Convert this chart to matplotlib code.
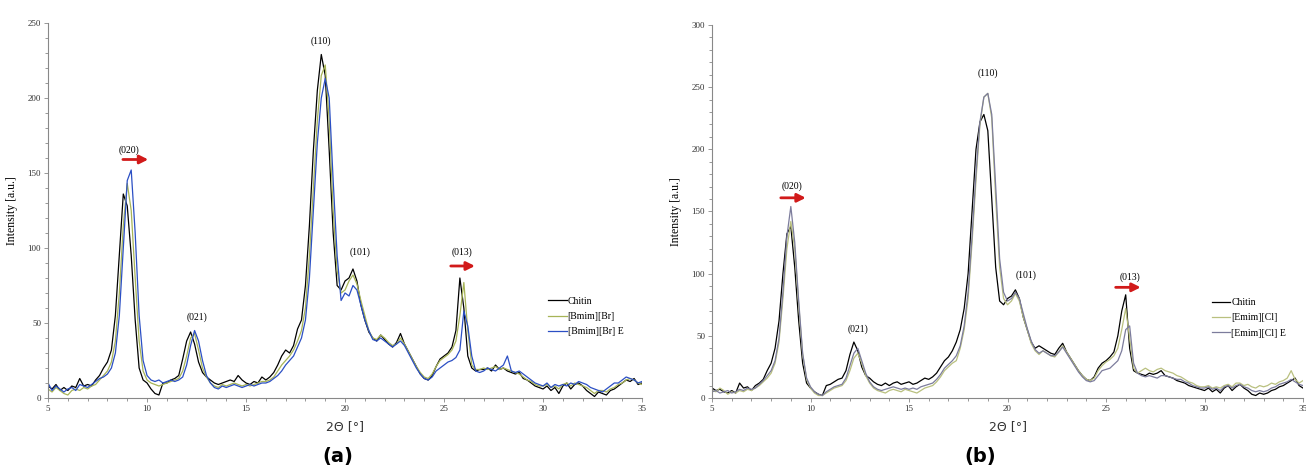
import numpy as np
import matplotlib.pyplot as plt
from matplotlib.ticker import MultipleLocator

# 2-theta sampling grid (degrees), 0.2 deg steps from 5 to 35
two_theta = np.round(np.arange(5, 35.01, 0.2), 1)

# ---- panel (a): Chitin / [Bmim][Br] / [Bmim][Br] E ----
chitin_a = [8, 6, 9, 5, 7, 5, 8, 7, 13, 8, 9, 8, 12, 15, 20,
            24, 32, 55, 95, 136, 128, 95, 52, 20, 12, 10, 6, 3, 2, 10,
            10, 12, 13, 15, 26, 38, 44, 36, 24, 17, 14, 12, 10, 9, 10,
            11, 12, 11, 15, 12, 10, 9, 11, 10, 14, 12, 14, 17, 22, 28,
            32, 30, 35, 46, 52, 75, 115, 165, 205, 229, 215, 165, 110, 75, 72,
            78, 80, 86, 78, 62, 52, 44, 40, 38, 42, 39, 36, 34, 37, 43,
            36, 31, 26, 21, 16, 13, 12, 15, 21, 26, 28, 30, 34, 45, 80,
            60, 28, 20, 18, 19, 19, 20, 18, 22, 19, 20, 18, 17, 16, 17,
            13, 12, 10, 8, 7, 6, 8, 5, 7, 3, 8, 10, 6, 9, 10,
            8, 5, 3, 1, 4, 3, 2, 5, 6, 8, 10, 12, 11, 13, 9, 10]
bmim_a = [6, 4, 7, 5, 3, 2, 5, 6, 5, 7, 6, 8, 9, 12, 15,
          18, 24, 38, 70, 115, 143, 125, 80, 38, 18, 12, 10, 9, 8, 9,
          10, 11, 12, 13, 18, 28, 40, 43, 32, 20, 14, 10, 8, 7, 9,
          8, 9, 10, 9, 8, 9, 8, 9, 10, 11, 11, 12, 14, 18, 22,
          25, 28, 32, 38, 45, 60, 95, 140, 185, 215, 222, 185, 125, 85, 70,
          72, 78, 82, 76, 65, 55, 45, 40, 39, 42, 40, 37, 35, 36, 40,
          36, 31, 26, 21, 17, 14, 13, 16, 21, 25, 27, 29, 32, 38, 55,
          77, 45, 22, 19, 19, 20, 19, 20, 21, 19, 20, 19, 18, 17, 16,
          14, 12, 11, 9, 8, 8, 9, 7, 8, 6, 9, 10, 8, 10, 9,
          8, 7, 5, 3, 5, 5, 4, 6, 7, 9, 10, 12, 13, 12, 10, 9]
bmim_e_a = [10, 5, 8, 6, 4, 6, 7, 5, 9, 8, 7, 9, 11, 13, 14,
            16, 20, 30, 55, 100, 145, 152, 110, 55, 25, 15, 12, 11, 12, 10,
            11, 12, 11, 12, 14, 22, 35, 45, 38, 25, 15, 10, 7, 6, 8,
            7, 8, 9, 8, 7, 8, 9, 8, 9, 10, 10, 11, 13, 15, 18,
            22, 25, 28, 34, 40, 52, 80, 125, 170, 200, 213, 200, 145, 95, 65,
            70, 68, 75, 72, 62, 52, 45, 39, 38, 40, 38, 36, 34, 36, 38,
            35, 30, 25, 20, 16, 13, 12, 14, 18, 20, 22, 24, 25, 27, 32,
            58, 48, 28, 18, 17, 18, 20, 19, 18, 20, 22, 28, 18, 17, 18,
            16, 14, 12, 10, 9, 8, 10, 7, 9, 8, 9, 8, 10, 9, 11,
            10, 9, 7, 6, 5, 4, 6, 8, 10, 10, 12, 14, 13, 12, 10, 11]

# ---- panel (b): Chitin / [Emim][Cl] / [Emim][Cl] E ----
chitin_b = [8, 6, 7, 5, 4, 6, 4, 12, 8, 9, 6, 10, 12, 15, 22,
            28, 40, 62, 100, 132, 138, 105, 62, 28, 12, 8, 5, 3, 2, 10,
            11, 13, 15, 16, 22, 35, 45, 38, 25, 18, 16, 13, 11, 10, 12,
            10, 12, 13, 11, 12, 13, 11, 12, 14, 16, 15, 17, 20, 25, 30,
            33, 38, 45, 55, 72, 100, 150, 200, 222, 228, 215, 160, 105, 78, 75,
            80, 82, 87, 80, 65, 55, 45, 40, 42, 40, 38, 36, 35, 40, 44,
            37, 32, 27, 22, 18, 15, 14, 17, 24, 28, 30, 33, 37, 50, 70,
            83, 40, 22, 20, 19, 18, 20, 19, 20, 22, 18, 17, 16, 14, 13,
            12, 10, 9, 8, 7, 6, 8, 5, 7, 4, 8, 10, 6, 9, 11,
            8, 6, 3, 2, 4, 3, 4, 6, 7, 9, 10, 12, 14, 16, 10, 8]
emim_b = [6, 5, 8, 6, 3, 5, 4, 6, 5, 7, 6, 8, 10, 13, 16,
          20, 28, 45, 80, 120, 142, 120, 75, 35, 15, 8, 4, 2, 2, 4,
          6, 8, 9, 10, 14, 22, 32, 36, 28, 18, 12, 8, 6, 5, 4,
          6, 7, 6, 5, 7, 6, 5, 4, 6, 8, 9, 10, 13, 17, 22,
          25, 28, 30, 40, 55, 80, 125, 175, 220, 242, 245, 225, 160, 105, 80,
          75, 78, 84, 78, 65, 55, 44, 38, 35, 38, 36, 34, 33, 37, 42,
          37, 32, 27, 22, 18, 15, 14, 16, 22, 26, 29, 31, 34, 40, 55,
          72, 48, 24, 20, 22, 24, 22, 21, 23, 24, 22, 21, 20, 18, 17,
          15, 13, 12, 10, 9, 9, 10, 8, 9, 8, 10, 11, 9, 12, 12,
          10, 11, 9, 8, 10, 9, 10, 12, 11, 13, 14, 16, 22, 15, 12, 14]
emim_e_b = [5, 6, 4, 5, 6, 4, 5, 7, 6, 8, 7, 8, 11, 14, 18,
            22, 30, 48, 85, 130, 154, 125, 78, 36, 16, 9, 5, 3, 2, 5,
            7, 9, 10, 11, 16, 26, 36, 40, 30, 20, 13, 9, 7, 6, 7,
            8, 9, 8, 7, 8, 7, 8, 7, 9, 10, 11, 12, 15, 19, 24,
            27, 30, 34, 42, 58, 85, 130, 180, 222, 242, 245, 228, 170, 112, 85,
            78, 80, 85, 80, 68, 56, 46, 39, 36, 38, 36, 34, 34, 37, 41,
            36, 31, 26, 21, 17, 14, 13, 14, 18, 22, 23, 24, 27, 30, 38,
            55, 58, 28, 20, 18, 17, 18, 17, 16, 18, 18, 17, 16, 15, 15,
            13, 12, 10, 9, 8, 8, 9, 7, 8, 6, 9, 10, 8, 10, 11,
            9, 8, 6, 5, 6, 5, 6, 8, 9, 11, 12, 13, 15, 13, 11, 10]

labels_a = ["Chitin", "[Bmim][Br]", "[Bmim][Br] E"]
labels_b = ["Chitin", "[Emim][Cl]", "[Emim][Cl] E"]
colors_a = ["black", "#a7b457", "#2b4fc4"]
colors_b = ["black", "#b9c07f", "#7c7c9c"]

peaks = ["(020)", "(021)", "(110)", "(101)", "(013)"]
peak_pos_a = [(9.1, 165), (12.5, 54), (18.8, 238), (20.75, 97), (25.9, 97)]
peak_pos_b = [(9.06, 170), (12.4, 55), (19.0, 261), (20.95, 99), (26.2, 97)]
arrows_a = [(8.64, 10.2, 159), (25.2, 26.7, 88)]
arrows_b = [(8.35, 9.9, 161), (25.35, 26.9, 89)]

serif = "Liberation Serif"

fig = plt.figure(figsize=(13.06, 4.75), dpi=100)
ax_a = fig.add_axes([0.0368, 0.1621, 0.4548, 0.7895])
ax_b = fig.add_axes([0.5452, 0.1621, 0.4525, 0.7853])


def draw(ax, series, labels, colors, ymax, peak_pos, arrows, leg_xy):
    for y, lab, c in zip(series, labels, colors):
        assert len(y) == len(two_theta)
        ax.plot(two_theta, y, color=c, lw=0.9, label=lab)
    ax.set_xlim(5, 35)
    ax.set_ylim(0, ymax)
    ax.xaxis.set_major_locator(MultipleLocator(5))
    ax.xaxis.set_minor_locator(MultipleLocator(1))
    ax.yaxis.set_major_locator(MultipleLocator(50))
    ax.yaxis.set_minor_locator(MultipleLocator(10))
    for s in ["top", "right"]:
        ax.spines[s].set_visible(False)
    for s in ["left", "bottom"]:
        ax.spines[s].set_color("#888888")
        ax.spines[s].set_linewidth(0.8)
    ax.tick_params(which="both", colors="#888888", labelcolor="#333333", width=0.6)
    ax.tick_params(which="major", length=3, labelsize=6.5, pad=2)
    ax.tick_params(which="minor", length=2)
    for t in ax.get_xticklabels() + ax.get_yticklabels():
        t.set_family(serif)
    ax.set_ylabel("Intensity [a.u.]", family=serif, fontsize=8.5)
    ax.yaxis.set_label_coords(-0.05, 0.5)
    ax.set_xlabel("2\u0398 [\u00b0]", fontsize=9, color="#333333")
    ax.xaxis.set_label_coords(0.5, -0.058)
    for name, (px, py) in zip(peaks, peak_pos):
        ax.text(px, py, name, family=serif, fontsize=7, ha="center", va="center")
    for x0, x1, yy in arrows:
        ax.annotate("", xy=(x1, yy), xytext=(x0, yy),
                    arrowprops=dict(arrowstyle="-|>,head_length=0.5,head_width=0.25",
                                    color="#d11a1a", lw=2))
    ax.legend(loc="upper left", bbox_to_anchor=leg_xy, frameon=False,
              prop={"family": serif, "size": 7}, handlelength=1.9,
              handletextpad=0.1, labelspacing=0.65, borderpad=0, borderaxespad=0)


draw(ax_a, [chitin_a, bmim_a, bmim_e_a], labels_a, colors_a, 250,
     peak_pos_a, arrows_a, (0.842, 0.27))
draw(ax_b, [chitin_b, emim_b, emim_e_b], labels_b, colors_b, 300,
     peak_pos_b, arrows_b, (0.846, 0.268))

fig.text(0.2588, 0.038, "(a)", fontsize=14, fontweight="bold", ha="center", va="center")
fig.text(0.7504, 0.038, "(b)", fontsize=14, fontweight="bold", ha="center", va="center")

plt.savefig("out.png", dpi=100)
